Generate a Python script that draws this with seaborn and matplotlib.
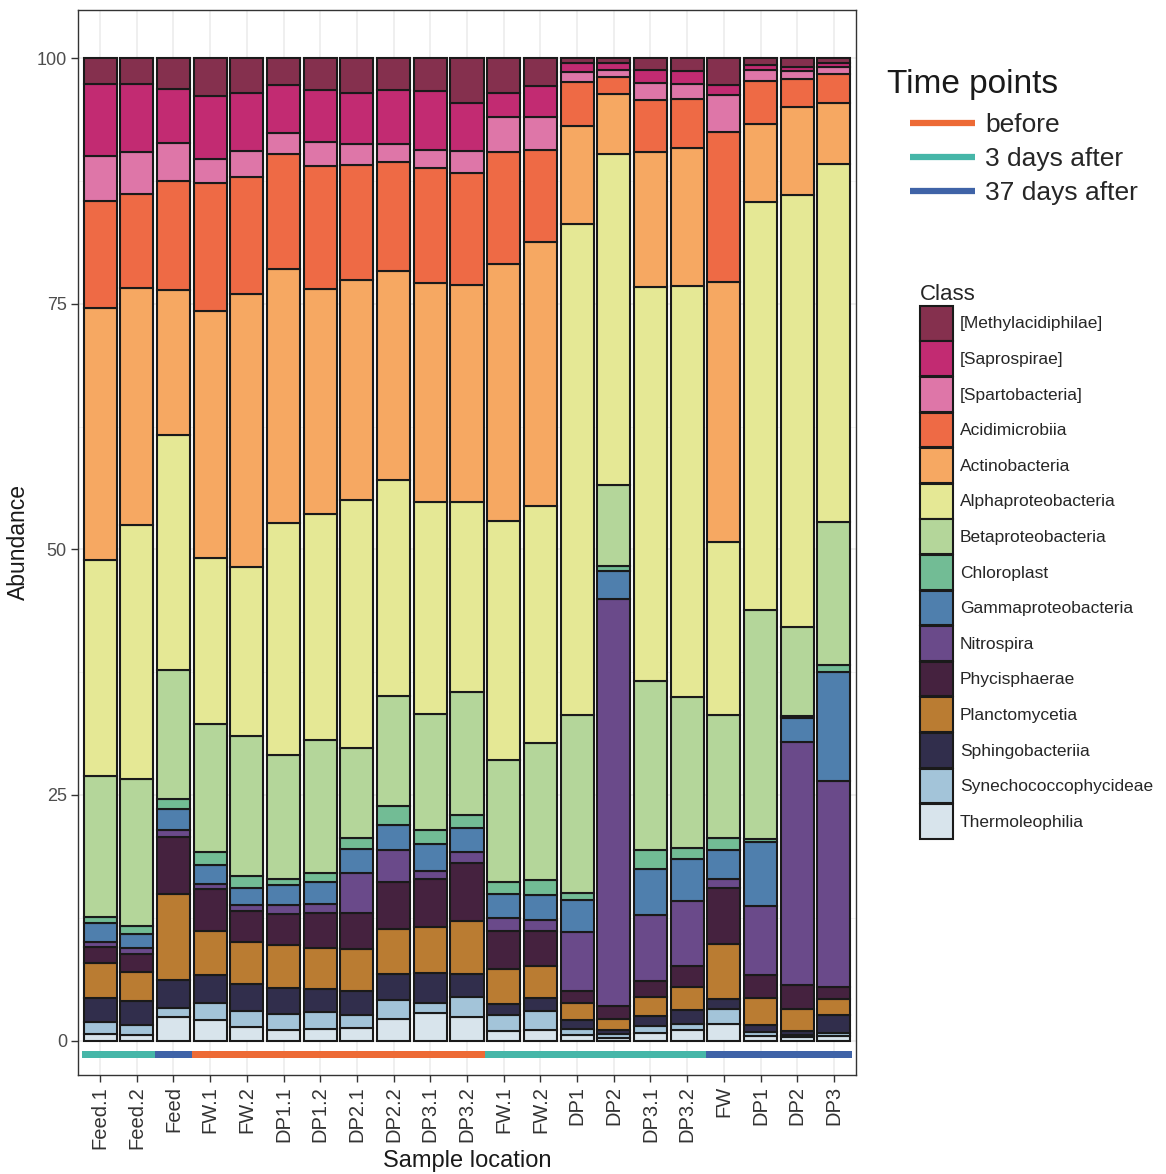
import numpy as np
import pandas as pd
import matplotlib
matplotlib.use("Agg")
import matplotlib.pyplot as plt
from matplotlib.patches import Patch
from matplotlib.lines import Line2D
import seaborn as sns

# ---------------- data ----------------
samples = ["Feed.1", "Feed.2", "Feed", "FW.1", "FW.2", "DP1.1", "DP1.2", "DP2.1", "DP2.2",
           "DP3.1", "DP3.2", "FW.1", "FW.2", "DP1", "DP2", "DP3.1", "DP3.2", "FW", "DP1",
           "DP2", "DP3"]
time_points = ["3 days after", "3 days after", "37 days after",
               "before", "before", "before", "before", "before", "before", "before", "before",
               "3 days after", "3 days after", "3 days after", "3 days after", "3 days after",
               "3 days after",
               "37 days after", "37 days after", "37 days after", "37 days after"]
time_levels = ["before", "3 days after", "37 days after"]

classes = ["[Methylacidiphilae]", "[Saprospirae]", "[Spartobacteria]", "Acidimicrobiia",
           "Actinobacteria", "Alphaproteobacteria", "Betaproteobacteria", "Chloroplast",
           "Gammaproteobacteria", "Nitrospira", "Phycisphaerae", "Planctomycetia",
           "Sphingobacteriia", "Synechococcophycideae", "Thermoleophilia"]

methylacidiphilae = [2.6, 2.6, 3.1, 3.9, 3.5, 2.7, 3.2, 3.5, 3.2, 3.3, 4.6, 3.5, 2.8, 0.5, 0.5, 1.2, 1.3, 2.7, 0.7, 0.9, 0.5]
saprospirae = [7.4, 7.0, 5.5, 6.4, 6.0, 4.9, 5.3, 5.2, 5.5, 6.1, 4.9, 2.5, 3.2, 0.9, 0.7, 1.3, 1.3, 1.1, 0.5, 0.4, 0.4]
spartobacteria = [4.5, 4.2, 3.9, 2.4, 2.6, 2.2, 2.5, 2.2, 1.9, 1.8, 2.2, 3.6, 3.3, 1.0, 0.7, 1.8, 1.6, 3.7, 1.1, 0.8, 0.7]
acidimicrobiia = [10.9, 9.6, 11.1, 13.0, 11.9, 11.7, 12.5, 11.7, 11.1, 11.7, 11.4, 11.4, 9.4, 4.5, 1.8, 5.3, 4.9, 15.3, 4.4, 2.9, 3.0]
actinobacteria = [25.7, 24.1, 14.8, 25.2, 27.8, 25.8, 22.9, 22.4, 21.2, 22.3, 22.1, 26.1, 26.9, 10.0, 6.1, 13.7, 14.1, 26.4, 7.9, 8.9, 6.2]
alphaproteobacteria = [22.0, 25.9, 23.9, 16.9, 17.2, 23.6, 23.0, 25.2, 22.0, 21.6, 19.3, 24.3, 24.1, 50.0, 33.6, 40.1, 41.8, 17.7, 41.6, 44.0, 36.4]
betaproteobacteria = [14.3, 14.9, 13.1, 13.0, 14.2, 12.6, 13.5, 9.2, 11.2, 11.8, 12.5, 12.5, 14.0, 18.1, 8.3, 17.2, 15.4, 12.5, 23.3, 9.1, 14.6]
chloroplast = [0.6, 0.8, 1.0, 1.3, 1.3, 0.7, 1.0, 1.1, 2.0, 1.4, 1.4, 1.2, 1.5, 0.7, 0.5, 1.9, 1.1, 1.2, 0.3, 0.2, 0.7]
gammaproteobacteria = [2.0, 1.5, 2.2, 2.0, 1.7, 2.0, 2.2, 2.4, 2.5, 2.7, 2.4, 2.4, 2.5, 3.2, 2.8, 4.7, 4.3, 3.0, 6.5, 2.4, 11.1]
nitrospira = [0.5, 0.6, 0.7, 0.5, 0.6, 0.9, 0.9, 4.1, 3.3, 0.9, 1.1, 1.3, 1.1, 6.1, 41.5, 6.7, 6.6, 0.9, 7.0, 24.7, 20.9]
phycisphaerae = [1.6, 1.8, 5.8, 4.2, 3.2, 3.2, 3.6, 3.7, 4.7, 4.8, 5.9, 3.9, 3.6, 1.2, 1.3, 1.7, 2.1, 5.7, 2.4, 2.5, 1.3]
planctomycetia = [3.6, 3.0, 8.7, 4.5, 4.2, 4.3, 4.1, 4.2, 4.6, 4.7, 5.4, 3.6, 3.3, 1.7, 1.1, 1.9, 2.4, 5.6, 2.7, 2.2, 1.6]
sphingobacteriia = [2.4, 2.4, 2.9, 2.9, 2.8, 2.7, 2.4, 2.5, 2.7, 3.1, 2.4, 1.1, 1.3, 0.9, 0.4, 1.0, 1.4, 1.0, 0.7, 0.4, 1.8]
synechococcophycideae = [1.2, 1.0, 0.9, 1.7, 1.6, 1.6, 1.7, 1.3, 1.9, 1.0, 2.0, 1.6, 1.9, 0.6, 0.4, 0.7, 0.6, 1.5, 0.4, 0.2, 0.3]
thermoleophilia = [0.7, 0.6, 2.4, 2.1, 1.4, 1.1, 1.2, 1.3, 2.2, 2.8, 2.4, 1.0, 1.1, 0.6, 0.3, 0.8, 1.1, 1.7, 0.5, 0.4, 0.5]

class_values = [methylacidiphilae, saprospirae, spartobacteria, acidimicrobiia, actinobacteria,
                alphaproteobacteria, betaproteobacteria, chloroplast, gammaproteobacteria,
                nitrospira, phycisphaerae, planctomycetia, sphingobacteriia,
                synechococcophycideae, thermoleophilia]

y_ticks = [0, 25, 50, 75, 100]

# ---------------- styles ----------------
class_colors = ["#85304E", "#C22B72", "#DE76A8", "#EE6A45", "#F6A862", "#E5E895",
                "#B4D69A", "#72BC95", "#4F7FAD", "#6A4A8A", "#45223F", "#BA7C32",
                "#312E4C", "#A3C4D9", "#D8E4EC"]
time_colors = {"before": "#ED6A35", "3 days after": "#46B6A8", "37 days after": "#3F63A7"}

sns.set_theme(style="white")
plt.rcParams["font.family"] = ["Liberation Sans", "DejaVu Sans"]

rows = []
for cname, vals in zip(classes, class_values):
    for i, v in enumerate(vals):
        rows.append({"pos": i, "Class": cname, "Abundance": v})
df = pd.DataFrame(rows)

W, H = 1166, 1174
fig = plt.figure(figsize=(W / 100, H / 100), dpi=100)
ax = fig.add_axes([78 / W, 1 - 1075 / H, (856 - 78) / W, (1075 - 10) / H])

ax.set_axisbelow(True)
ax.set_yticks([12.5, 37.5, 62.5, 87.5], minor=True)
ax.grid(True, which="major", color="#EBEBEB", linewidth=1.1)
ax.grid(True, which="minor", axis="y", color="#F3F3F3", linewidth=0.6)

sns.histplot(data=df, x="pos", weights="Abundance", hue="Class", hue_order=classes,
             palette=dict(zip(classes, class_colors)), multiple="stack", discrete=True,
             shrink=0.9, alpha=1, edgecolor="#1A1A1A", linewidth=1.5, legend=False, ax=ax)

# time point band under the bars
band_df = pd.DataFrame({"pos": np.arange(len(samples)), "tp": time_points})
for tp in time_levels:
    sub = band_df[band_df["tp"] == tp]
    ax.bar(sub["pos"], 0.75, bottom=-1.8, width=1.0, color=time_colors[tp], linewidth=0)

ax.set_xlim(-0.6, len(samples) - 0.4)
ax.set_ylim(-3.5, 104.9)
ax.set_xticks(np.arange(len(samples)))
ax.set_xticklabels(samples, rotation=90, fontsize=14.5, color="#333333")
ax.set_yticks(y_ticks)
ax.set_yticklabels([str(t) for t in y_ticks], fontsize=13, color="#4D4D4D")
ax.tick_params(axis="both", which="major", length=5, width=1, color="#333333", pad=3,
               bottom=True, left=True)
ax.tick_params(axis="y", which="minor", length=0)
for sp in ax.spines.values():
    sp.set_color("#333333")
    sp.set_linewidth(1.0)
    sp.set_visible(True)

ax.set_xlabel("Sample location", fontsize=17, color="#1A1A1A")
ax.set_ylabel("Abundance", fontsize=16.5, color="#1A1A1A")
ax.xaxis.set_label_coords(0.5, -0.070)
ax.yaxis.set_label_coords(-0.062, 0.5)

# legends
fig.text(887 / W, 1 - 85 / H, "Time points", fontsize=24, va="center", ha="left", color="#1A1A1A")
time_handles = [Line2D([0], [0], color=time_colors[t], lw=4.5, solid_capstyle="butt") for t in time_levels]
leg1 = fig.legend(time_handles, time_levels, loc="upper left", bbox_to_anchor=(910 / W, 1 - 113 / H),
                  frameon=False, fontsize=19, handlelength=2.45, handletextpad=0.4,
                  labelspacing=0.38, borderpad=0, borderaxespad=0)

class_handles = [Patch(facecolor=c, edgecolor="#1A1A1A", linewidth=1.5) for c in class_colors]
leg2 = fig.legend(class_handles, classes, loc="upper left", bbox_to_anchor=(920 / W, 1 - 284 / H),
                  frameon=False, fontsize=12.5, title="Class", title_fontsize=16,
                  alignment="left", handlelength=1.9, handleheight=2.7, handletextpad=0.4,
                  labelspacing=0.05, borderpad=0, borderaxespad=0)

fig.savefig("out.png", dpi=100)
